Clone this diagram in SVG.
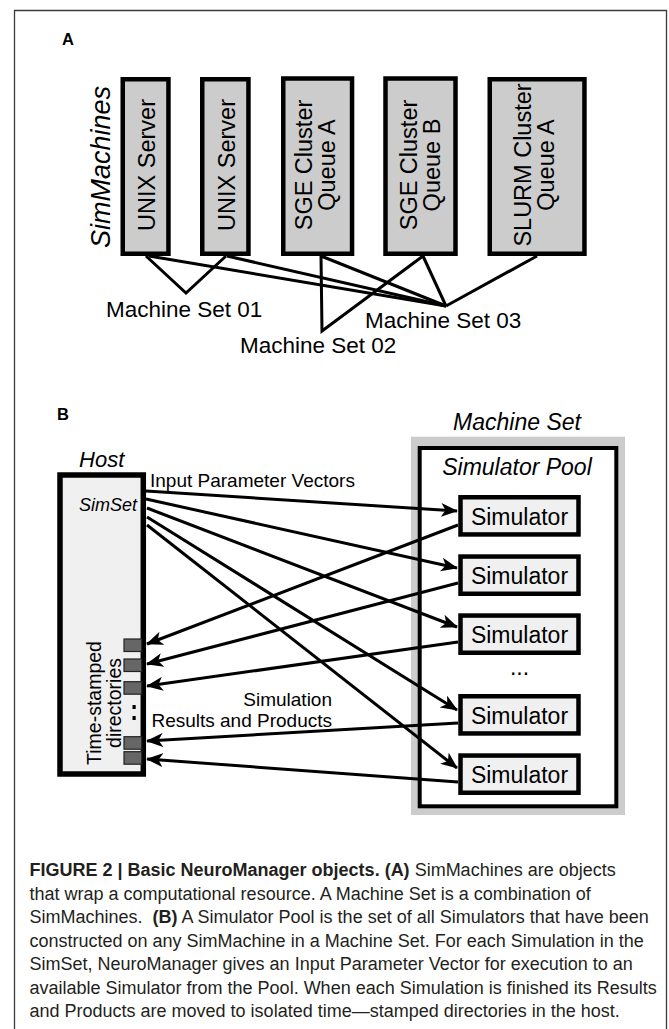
<svg xmlns="http://www.w3.org/2000/svg" width="669" height="1029" viewBox="0 0 669 1029">
<style>
text{font-family:"Liberation Sans",Arial,Helvetica,sans-serif;fill:#000}
.lbl{font-size:16.5px;font-weight:bold}
.mach{fill:#cccccc;stroke:#000;stroke-width:4.5}
.mtxt{font-size:23.5px;text-anchor:middle}
.it{font-style:italic}
.set{font-size:22.5px}
.conA{fill:none;stroke:#000;stroke-width:3;stroke-linejoin:miter}
.arr{fill:none;stroke:#000;stroke-width:3;marker-end:url(#ah)}
.sim{fill:#f0f0f0;stroke:#000;stroke-width:4.5}
.stxt{font-size:23px;text-anchor:middle}
.dir{fill:#666;stroke:#222;stroke-width:1.2}
.b19{font-size:19px}
.cap{font-size:18px;fill:#231f20}
.capb{font-weight:bold}
</style>
<defs>
<marker id="ah" markerUnits="userSpaceOnUse" markerWidth="17" markerHeight="14" viewBox="0 0 17 14" refX="16" refY="7" orient="auto">
<path d="M0,0 L17,7 L0,14 L4.5,7 Z" fill="#000"/>
</marker>
</defs>

<path d="M14.5,1029 V10.5 H666.5 V1029" fill="none" stroke="#3a3a3a" stroke-width="1.3"/>

<!-- Panel A -->
<text class="lbl" x="62" y="45">A</text>
<text class="it" font-size="27" transform="translate(110,167) rotate(-90)" text-anchor="middle">SimMachines</text>

<g id="connectorsA">
<polyline class="conA" points="146,256 186,293 226,256"/>
<line class="conA" x1="149" y1="256" x2="446" y2="306"/>
<line class="conA" x1="227" y1="256" x2="446" y2="306"/>
<line class="conA" x1="321" y1="256" x2="446" y2="306"/>
<polyline class="conA" points="321,256 322,331 423,256"/>
<line class="conA" x1="423" y1="256" x2="446" y2="306"/>
<line class="conA" x1="537" y1="256" x2="446" y2="306"/>
</g>

<g id="unix1">
<rect class="mach" x="122.75" y="79.25" width="45.7" height="174.5"/>
<text class="mtxt" transform="translate(154.5,165) rotate(-90)">UNIX Server</text>
</g>
<g id="unix2">
<rect class="mach" x="202.25" y="79.25" width="46.2" height="174.5"/>
<text class="mtxt" transform="translate(234.5,165) rotate(-90)">UNIX Server</text>
</g>
<g id="sgeA">
<rect class="mach" x="283.25" y="78.5" width="68.8" height="175.25"/>
<text class="mtxt" transform="translate(312,165) rotate(-90)"><tspan x="0" y="0">SGE Cluster</tspan><tspan x="0" y="23">Queue A</tspan></text>
</g>
<g id="sgeB">
<rect class="mach" x="385.5" y="78.5" width="70" height="175.25"/>
<text class="mtxt" transform="translate(416.5,165) rotate(-90)"><tspan x="0" y="0">SGE Cluster</tspan><tspan x="0" y="23">Queue B</tspan></text>
</g>
<g id="slurmA">
<rect class="mach" x="489.75" y="79.25" width="94.7" height="174.5"/>
<text class="mtxt" transform="translate(530.5,165) rotate(-90)"><tspan x="0" y="0">SLURM Cluster</tspan><tspan x="0" y="23">Queue A</tspan></text>
</g>

<g id="set01"><text class="set" x="106" y="317">Machine Set 01</text></g>
<g id="set03"><text class="set" x="365" y="328">Machine Set 03</text></g>
<g id="set02"><text class="set" x="240" y="353">Machine Set 02</text></g>

<!-- Panel B -->
<text class="lbl" x="57" y="420">B</text>

<g id="machineSet">
<text class="it" font-size="23" x="517" y="430" text-anchor="middle">Machine Set</text>
<rect x="411" y="436.7" width="214" height="378.3" fill="#cccccc"/>
<rect x="419.7" y="448" width="196.6" height="358.3" fill="#fff" stroke="#000" stroke-width="4"/>
<text class="it" font-size="23" x="517" y="475" text-anchor="middle">Simulator Pool</text>
</g>

<g id="host">
<text class="it" font-size="22" x="101.7" y="467" text-anchor="middle">Host</text>
<rect x="60" y="475" width="83.3" height="299" fill="#f0f0f0" stroke="#000" stroke-width="5.5"/>
<text class="it" font-size="18" x="137" y="511" text-anchor="end">SimSet</text>
<text font-size="19.5" transform="translate(101,703) rotate(-90)" text-anchor="middle"><tspan x="0" y="0">Time-stamped</tspan><tspan x="0" y="19.5">directories</tspan></text>
<rect class="dir" x="124" y="639" width="17.7" height="12.5"/>
<rect class="dir" x="124" y="659" width="17.7" height="12.5"/>
<rect class="dir" x="124" y="681.7" width="17.7" height="12.5"/>
<rect class="dir" x="124" y="736.7" width="17.7" height="12.5"/>
<rect class="dir" x="124" y="751.7" width="17.7" height="12.5"/>
<rect x="132.5" y="705" width="3.2" height="4" fill="#000"/>
<rect x="132.5" y="716" width="3.2" height="4" fill="#000"/>
</g>

<g id="sim1"><rect class="sim" x="460.5" y="497.25" width="118" height="37.2"/><text class="stxt" x="519.5" y="524.5">Simulator</text></g>
<g id="sim2"><rect class="sim" x="460.5" y="556.55" width="118" height="37.2"/><text class="stxt" x="519.5" y="583.8">Simulator</text></g>
<g id="sim3"><rect class="sim" x="460.5" y="615.55" width="118" height="37.2"/><text class="stxt" x="519.5" y="642.8">Simulator</text></g>
<text class="stxt" x="519.5" y="675">...</text>
<g id="sim4"><rect class="sim" x="460.5" y="696.25" width="118" height="37.2"/><text class="stxt" x="519.5" y="723.5">Simulator</text></g>
<g id="sim5"><rect class="sim" x="460.5" y="755.55" width="118" height="37.2"/><text class="stxt" x="519.5" y="782.8">Simulator</text></g>

<g id="connectorsB">
<line class="arr" x1="146" y1="491" x2="457" y2="511"/>
<line class="arr" x1="146" y1="499" x2="457" y2="568"/>
<line class="arr" x1="147" y1="508" x2="457" y2="627"/>
<line class="arr" x1="147" y1="517" x2="457" y2="710"/>
<line class="arr" x1="147" y1="525" x2="457" y2="768"/>
<line class="arr" x1="458" y1="525" x2="147" y2="644"/>
<line class="arr" x1="458" y1="583" x2="147" y2="664"/>
<line class="arr" x1="458" y1="642" x2="147" y2="686"/>
<line class="arr" x1="458" y1="723" x2="147" y2="741"/>
<line class="arr" x1="458" y1="782" x2="147" y2="759"/>
</g>

<text class="b19" x="150" y="487">Input Parameter Vectors</text>
<text class="b19" x="332" y="706" text-anchor="end">Simulation</text>
<text class="b19" x="332" y="727" text-anchor="end">Results and Products</text>

<!-- Caption -->
<g id="caption">
<text class="cap" x="29.5" y="876"><tspan class="capb">FIGURE 2 | Basic NeuroManager objects. (A)</tspan> SimMachines are objects</text>
<text class="cap" x="29.5" y="899.5">that wrap a computational resource. A Machine Set is a combination of</text>
<text class="cap" x="29.5" y="923" xml:space="preserve">SimMachines.  <tspan class="capb">(B)</tspan> A Simulator Pool is the set of all Simulators that have been</text>
<text class="cap" x="29.5" y="946.5">constructed on any SimMachine in a Machine Set. For each Simulation in the</text>
<text class="cap" x="29.5" y="970">SimSet, NeuroManager gives an Input Parameter Vector for execution to an</text>
<text class="cap" x="29.5" y="993.5">available Simulator from the Pool. When each Simulation is finished its Results</text>
<text class="cap" x="29.5" y="1017">and Products are moved to isolated time—stamped directories in the host.</text>
</g>
</svg>
